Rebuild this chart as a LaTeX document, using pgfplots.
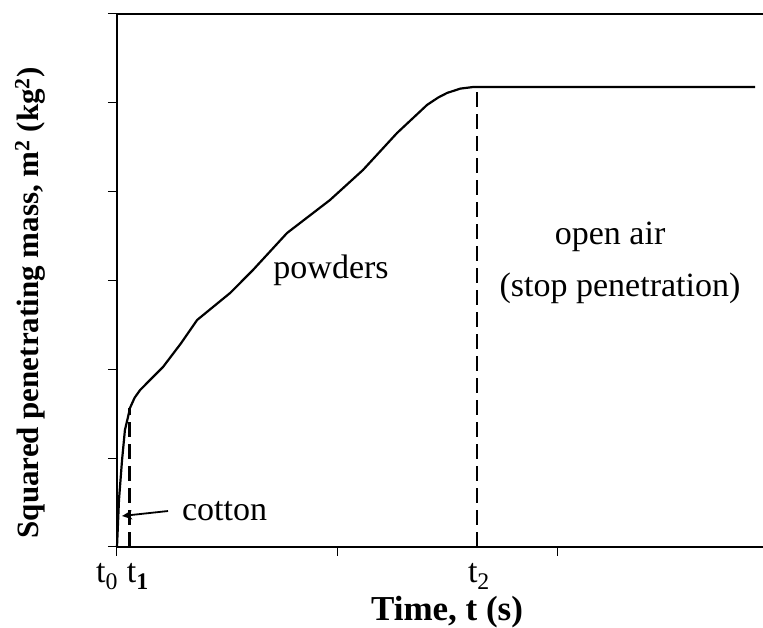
\documentclass[border=0pt]{standalone}
\usepackage{fontspec}
\setmainfont{Liberation Serif}
\usepackage{pgfplots}
\pgfplotsset{compat=1.18}
\usetikzlibrary{arrows.meta}
\begin{document}
\begin{tikzpicture}
\begin{axis}[
  at={(0,0)}, anchor=south west,
  scale only axis, width=646pt, height=533pt,
  xmin=0, xmax=2.936, ymin=0, ymax=6,
  axis x line*=bottom, axis y line*=left,
  axis line style={line width=1.3pt, -},
  xtick={0,1,2}, xticklabels={},
  ytick={0,1,2,3,4,5,6}, yticklabels={},
  tick align=outside, major tick length=9pt,
  tick style={line width=1pt, black},
  clip=false,
  font=\fontsize{34}{38}\selectfont,
]
\addplot[black, line width=2.2pt] coordinates {
(0,0) (0.009,0.529) (0.023,0.979) (0.036,1.317) (0.05,1.463) (0.059,1.565)
(0.08,1.68) (0.105,1.767) (0.15,1.88) (0.209,2.026) (0.29,2.29) (0.364,2.555) (0.514,2.859) (0.618,3.118)
(0.773,3.535) (0.968,3.906) (1.118,4.244) (1.273,4.661) (1.409,4.976)
(1.46,5.06) (1.5,5.111) (1.56,5.16) (1.618,5.178) (1.636,5.178) (2.9,5.178)
};
\addplot[black, line width=3pt, dash pattern=on 15pt off 7pt] coordinates {(0.059,0) (0.059,1.565)};
\addplot[black, line width=2.6pt, dash pattern=on 15pt off 7pt] coordinates {(1.636,0) (1.636,5.178)};
\draw[line width=1.3pt] (rel axis cs:0,1) -- (rel axis cs:1,1);
\draw[line width=1.8pt, -{Stealth[length=10pt,width=9pt]}] (axis cs:0.232,0.405) -- (axis cs:0.023,0.349);
\node[anchor=west] at (axis cs:0.28,0.40) {cotton};
\node at (axis cs:0.973,3.118) {powders};
\node at (axis cs:2.241,3.49) {open air};
\node at (axis cs:2.286,2.916) {(stop penetration)};
\node[anchor=base, inner sep=0pt] at (axis cs:-0.045,-0.40) {t\textsubscript{0}};
\node[anchor=base, inner sep=0pt] at (axis cs:0.095,-0.40) {t\textsubscript{\bfseries 1}};
\node[anchor=base, inner sep=0pt] at (axis cs:1.645,-0.40) {t\textsubscript{2}};
\node[font=\fontsize{35}{38}\selectfont\bfseries, inner sep=0pt] at (axis cs:1.5,-0.73) {Time, t (s)};
\node[rotate=90, font=\fontsize{31}{35}\selectfont\bfseries] at (axis cs:-0.395,2.747) {Squared penetrating mass, m\textsuperscript{2} (kg\textsuperscript{2})};
\end{axis}
\pgfresetboundingbox
\path (-117pt,-81pt) rectangle (646pt,547pt);
\end{tikzpicture}
\end{document}
